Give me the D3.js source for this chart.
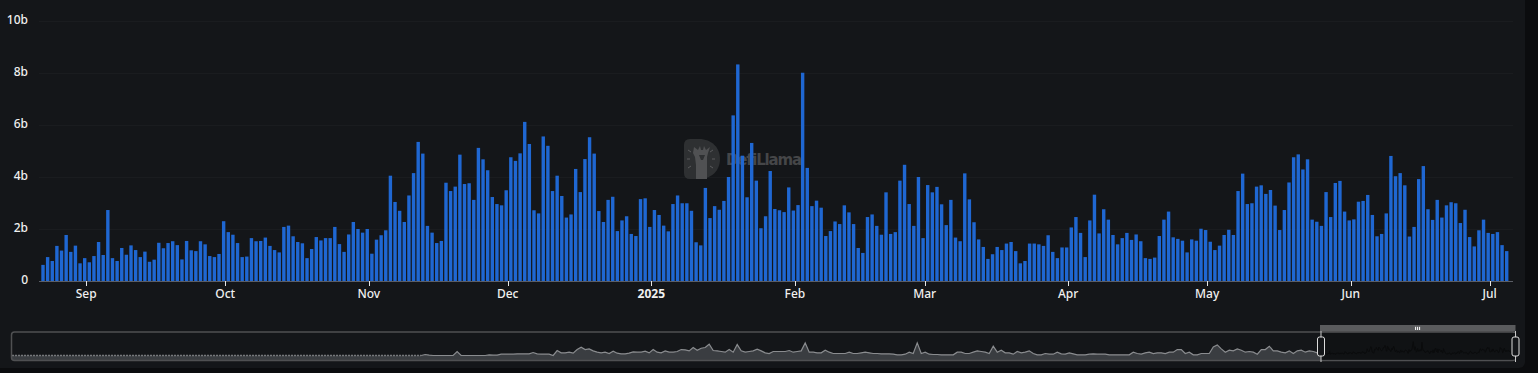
<!DOCTYPE html>
<html>
<head>
<meta charset="utf-8">
<script src="https://cdn.jsdelivr.net/npm/d3@7"></script>
<style>
  html, body { margin: 0; padding: 0; background: #0b0c0e; overflow: hidden; }
  text { font-family: "Noto Sans", sans-serif; }
</style>
</head>
<body>
<div id="chart"></div>
<script>
// daily volume in billions, one bar per day from firstDay
const firstDay = new Date(Date.UTC(2024, 7, 23));
const volumes = [
  0.62, 0.92, 0.77, 1.35, 1.17, 1.77, 1.12, 1.36, 0.68, 0.88, 0.72, 0.96, 1.5, 1.0, 2.73, 0.88,
  0.77, 1.27, 1.01, 1.37, 1.19, 0.92, 1.13, 0.74, 0.82, 1.47, 1.26, 1.46, 1.53, 1.38, 0.83, 1.54,
  1.18, 1.15, 1.53, 1.41, 0.96, 0.92, 1.04, 2.3, 1.88, 1.78, 1.46, 0.92, 0.94, 1.65, 1.53, 1.54,
  1.67, 1.35, 1.19, 1.1, 2.08, 2.13, 1.72, 1.5, 1.45, 0.88, 1.23, 1.69, 1.56, 1.65, 1.65, 2.08,
  1.42, 1.12, 1.79, 2.27, 2.0, 1.86, 2.0, 1.05, 1.59, 1.76, 1.95, 4.05, 3.04, 2.7, 2.27, 3.29,
  4.15, 5.35, 4.9, 2.12, 1.86, 1.46, 1.54, 3.78, 3.46, 3.63, 4.86, 3.73, 3.76, 3.12, 5.12, 4.68,
  4.26, 3.23, 2.96, 2.91, 3.49, 4.76, 4.62, 4.91, 6.12, 5.27, 2.72, 2.6, 5.56, 5.2, 3.46, 4.05,
  3.27, 2.44, 2.56, 4.31, 3.42, 4.69, 5.53, 4.9, 2.69, 2.27, 3.12, 3.24, 1.92, 2.33, 2.49, 1.81,
  1.73, 3.15, 3.18, 2.08, 2.73, 2.54, 2.13, 1.91, 2.96, 3.29, 2.99, 2.99, 2.7, 1.49, 1.37, 3.58,
  2.42, 2.88, 2.74, 3.08, 4.0, 6.37, 8.33, 4.82, 3.22, 5.31, 3.86, 2.03, 2.49, 4.23, 2.77, 2.72,
  2.65, 3.6, 2.71, 2.92, 8.01, 4.35, 2.88, 3.09, 2.82, 1.73, 1.92, 2.29, 2.19, 2.91, 2.64, 2.19,
  1.27, 1.08, 2.46, 2.56, 2.12, 1.78, 3.41, 1.81, 1.88, 3.86, 4.47, 2.96, 2.12, 4.0, 1.65, 3.69,
  3.41, 3.62, 2.95, 2.15, 3.12, 1.67, 1.53, 4.14, 3.14, 2.26, 1.6, 1.31, 0.85, 1.03, 1.31, 1.19,
  1.44, 1.5, 1.15, 0.68, 0.77, 1.44, 1.44, 1.41, 1.35, 1.76, 1.12, 0.88, 1.29, 1.29, 2.06, 2.46,
  1.85, 0.92, 2.33, 3.32, 1.83, 2.76, 2.36, 1.77, 1.41, 1.65, 1.85, 1.58, 1.79, 1.53, 0.88, 0.85,
  0.9, 1.73, 2.36, 2.67, 1.68, 1.62, 1.55, 1.1, 1.6, 1.55, 2.01, 1.96, 1.51, 1.19, 1.36, 1.77,
  1.97, 1.77, 3.46, 4.13, 2.96, 2.99, 3.63, 3.68, 3.35, 3.5, 2.9, 1.96, 2.73, 3.79, 4.76, 4.87,
  4.29, 4.68, 2.36, 2.28, 2.12, 3.42, 2.46, 3.77, 3.85, 2.67, 2.33, 2.37, 3.05, 3.08, 3.31, 2.54,
  1.72, 1.81, 2.6, 4.81, 4.03, 4.15, 3.68, 1.71, 2.08, 3.92, 4.42, 2.76, 2.35, 3.12, 2.44, 2.91,
  3.03, 2.99, 2.23, 2.74, 1.69, 1.33, 1.95, 2.36, 1.85, 1.81, 1.88, 1.38, 1.15
];

const yTicks = [0, 2, 4, 6, 8, 10];
const yTickLabels = ['0', '2b', '4b', '6b', '8b', '10b'];

const xTickDates = ['2024-09-01', '2024-10-01', '2024-11-01', '2024-12-01', '2025-01-01', '2025-02-01',
  '2025-03-01', '2025-04-01', '2025-05-01', '2025-06-01', '2025-07-01'];
const xTickLabels = ['Sep', 'Oct', 'Nov', 'Dec', '2025', 'Feb', 'Mar', 'Apr', 'May', 'Jun', 'Jul'];

// older history shown only in the slider, read every 6.5 days
const historyStart = new Date(Date.UTC(2020, 7, 22));
const historyValues = [
  0, 0.6, 0.2, 0, 0, 0, 0, 0, 0, 2.4, 0, 0, 0, 0, 0, 0, 0, 0.4, 0.2, 0.2, 0.8, 0.8, 0.8, 0.8, 1, 1, 1, 1, 1.8, 1,
  0.8, 0.8, 0.8, 0, 3, 1.6, 1.6, 2, 1.4, 3.6, 5, 3.6, 4, 2.8, 2, 1.6, 2, 1.2, 2.6, 1.4, 1, 1, 1.4, 2.2, 2, 2, 2.6,
  1.6, 3.6, 2, 1.6, 2.8, 2, 2, 2.4,
  3.6, 3.4, 2.8, 4.8, 3.2, 4.4, 4.8, 6.8, 3, 2.8, 2.4, 2, 3.6, 2, 6.6, 2.8, 2, 2.4, 2.8, 3.8, 2.8, 1.6, 1.2, 2.4,
  2.4, 2.4, 2.4, 3, 2, 2.4, 2.8, 7.6, 2, 2, 1.6, 1.6, 3.2, 2, 1.2, 1.2, 1.2, 1.2, 2, 1.2, 1.2, 1.6, 2, 1.6, 1.2,
  1.2, 1, 1, 1, 0.8, 0.4, 0.4, 0.8, 2, 1.2, 7.6, 1.2, 2, 0.8, 0.6, 0.6,
  0.4, 0.4, 0.4, 0.4, 2, 2, 1.2, 1.2, 2, 2.8, 2.4, 2, 1.2, 5.6, 2, 3.2, 1.6, 1.6, 0.8, 2.4, 1.6, 2, 2.8, 1.2, 0.4,
  0.4, 1.2, 0.8, 0.8, 2, 1, 0.8, 1.6, 1, 0.4, 0.4, 0.4, 0.8, 1, 0.8, 0.8, 0.8, 0.4, 0.4, 0.4, 0.4, 0.4, 0.4, 2, 1.2,
  0.8, 1.6, 2, 1.2, 1.6, 1.6, 1.2, 2, 2, 3.6, 3.6, 1.2, 2, 0.4, 0.4, 1.2, 1.2, 1.2, 5.2, 6.4, 4, 2, 3.2, 2.8, 4,
  3.2, 2, 2.4, 2, 0.8, 3.6, 3.6, 5.6, 2.8, 2.8, 2, 1.6, 2.8, 1.2, 2.8, 3.2, 2, 2.8, 2.4, 1.6, 0
];

const width = 1538;
const height = 373;
const barColor = '#1f67d2';
const gridColor = '#1a1c1f';

const days = volumes.map((d, i) => d3.utcDay.offset(firstDay, i));
const lastDay = days[days.length - 1];
const tickDates = xTickDates.map(d => new Date(d + 'T08:00:00Z'));

const svg = d3.select('#chart')
  .append('svg')
  .attr('width', width)
  .attr('height', height)
  .style('display', 'block');

// card behind the chart
svg.append('path')
  .attr('d', 'M0,0H1525V362a6,6 0 0 1 -6,6H0Z')
  .attr('fill', '#141619');

const x = d3.scaleUtc().domain([firstDay, lastDay]).range([43, 1506.7]);
const y = d3.scaleLinear().domain([0, 10]).range([281, 21]);

// grid lines
svg.append('g')
  .selectAll('line')
  .data(yTicks.slice(1))
  .enter()
  .append('line')
  .attr('x1', 39)
  .attr('x2', 1513)
  .attr('y1', d => y(d) + 0.5)
  .attr('y2', d => y(d) + 0.5)
  .attr('stroke', gridColor);

// watermark sits under the bars
const mark = svg.append('g');
mark.append('path')
  .attr('d', 'M690,139H699C712,139 720,148 720,159C720,170 712,179 699,179H690Q684,179 684,173V145Q684,139 690,139Z')
  .attr('fill', '#2e3032');
mark.append('path')
  .attr('d', 'M694,147L698,150L700,146L701,150H703L704,146L706,150L710,147L708,153L707,157V179H696V165L695,157L693,153Z')
  .attr('fill', '#505153');
mark.append('path')
  .attr('d', 'M699,155H705L703,160H701Z')
  .attr('fill', '#2e3032');
mark.selectAll('line')
  .data([[688, 150, 691, 152], [687, 159, 690, 159], [688, 168, 691, 166], [713, 150, 710, 152], [715, 159, 712, 159], [713, 168, 710, 166]])
  .enter()
  .append('line')
  .attr('x1', d => d[0])
  .attr('y1', d => d[1])
  .attr('x2', d => d[2])
  .attr('y2', d => d[3])
  .attr('stroke', '#5a5b5d');
mark.append('text')
  .attr('x', 726)
  .attr('y', 165)
  .attr('textLength', 76)
  .attr('lengthAdjust', 'spacing')
  .style('font-size', '15px')
  .style('font-weight', '700')
  .style('font-family', '"DejaVu Sans", sans-serif')
  .style('fill', '#454648')
  .text('DefiLlama');

// bars
const barWidth = 3.4;
svg.append('g')
  .selectAll('rect')
  .data(volumes)
  .enter()
  .append('rect')
  .attr('x', (d, i) => x(days[i]) - barWidth / 2)
  .attr('y', d => y(d))
  .attr('width', barWidth)
  .attr('height', d => y(0) - y(d))
  .attr('fill', barColor);

// x axis
const xAxis = svg.append('g');
xAxis.append('line')
  .attr('x1', 39)
  .attr('x2', 1513)
  .attr('y1', 281.5)
  .attr('y2', 281.5)
  .attr('stroke', '#5b5e66');

xAxis.selectAll('line.tick')
  .data(tickDates)
  .enter()
  .append('line')
  .attr('class', 'tick')
  .attr('x1', d => Math.round(x(d)) + 0.5)
  .attr('x2', d => Math.round(x(d)) + 0.5)
  .attr('y1', 281)
  .attr('y2', 286)
  .attr('stroke', '#e6e6e6');

xAxis.selectAll('text')
  .data(tickDates)
  .enter()
  .append('text')
  .attr('x', d => x(d))
  .attr('y', 298)
  .attr('text-anchor', 'middle')
  .style('font-size', '12px')
  .style('font-weight', (d, i) => xTickLabels[i] === '2025' ? '700' : '500')
  .style('fill', '#f0f0f0')
  .text((d, i) => xTickLabels[i]);

// y labels
svg.append('g')
  .selectAll('text')
  .data(yTicks)
  .enter()
  .append('text')
  .attr('x', 28)
  .attr('y', d => y(d) + 3)
  .attr('text-anchor', 'end')
  .style('font-size', '12px')
  .style('font-weight', '500')
  .style('fill', '#f0f0f0')
  .text((d, i) => yTickLabels[i]);

// slider below the chart
const sliderRight = 1515.5;
const sliderLeft = 1321;
// the window has to land on the selected days, so the domain start comes from it
const sx = d3.scaleUtc()
  .domain([
    new Date(+firstDay - (sliderLeft - 12) * (+lastDay - +firstDay) / (sliderRight - sliderLeft)),
    lastDay
  ])
  .range([12, sliderRight]);
const sy = d3.scaleLinear().domain([0, 8.33]).range([355.5, 341.7]);

const historyDates = historyValues.map((d, i) => new Date(+historyStart + i * 6.5 * 864e5));
const historyPoints = historyValues.map((d, i) => [historyDates[i], d]);
const windowPoints = volumes.map((d, i) => [days[i], d]);
const flatPoints = [[sx.domain()[0], 0], [historyStart, 0]];

const area = d3.area()
  .x(d => sx(d[0]))
  .y0(360)
  .y1(d => sy(d[1]));
const line = d3.line()
  .x(d => sx(d[0]))
  .y(d => sy(d[1]));

const slider = svg.append('g');

slider.append('path')
  .attr('d', area(flatPoints.concat(historyPoints)))
  .attr('fill', '#3a3d41');
slider.append('path')
  .attr('d', line(historyPoints))
  .attr('fill', 'none')
  .attr('stroke', '#8a8c8f')
  .attr('stroke-width', 1.2);
slider.append('path')
  .attr('d', line(flatPoints))
  .attr('fill', 'none')
  .attr('stroke', '#76787b')
  .attr('stroke-width', 1.4)
  .attr('stroke-dasharray', '2 1');

// frame
slider.append('rect')
  .attr('x', 11.5)
  .attr('y', 332)
  .attr('width', sliderRight - 11.5)
  .attr('height', 28.5)
  .attr('rx', 3)
  .attr('fill', 'none')
  .attr('stroke', '#4f5052')
  .attr('stroke-width', 1.5);

// selected range
slider.append('rect')
  .attr('x', sx(firstDay))
  .attr('y', 333)
  .attr('width', sliderRight - sx(firstDay))
  .attr('height', 26.5)
  .attr('fill', '#101214');
slider.append('path')
  .attr('d', line(windowPoints))
  .attr('fill', 'none')
  .attr('stroke', '#0a0b0c');
slider.append('rect')
  .attr('x', sliderLeft - 1)
  .attr('y', 325)
  .attr('width', sliderRight - sliderLeft + 1)
  .attr('height', 6.5)
  .attr('fill', '#5a5b5d');
slider.selectAll('rect.grip')
  .data([-2, 0, 2])
  .enter()
  .append('rect')
  .attr('class', 'grip')
  .attr('x', d => 1417.6 + d - 0.5)
  .attr('y', 326.8)
  .attr('width', 1)
  .attr('height', 3.2)
  .attr('fill', '#ffffff');

// the two drag handles
slider.selectAll('g.handle')
  .data([sliderLeft, sliderRight])
  .enter()
  .append('g')
  .attr('class', 'handle')
  .each(function(d) {
    const h = d3.select(this);
    h.append('line')
      .attr('x1', d).attr('x2', d)
      .attr('y1', 331).attr('y2', 362)
      .attr('stroke', '#c8c8c8');
    h.append('rect')
      .attr('x', d - 3.5)
      .attr('y', 337)
      .attr('width', 7)
      .attr('height', 19)
      .attr('rx', 2)
      .attr('fill', '#141619')
      .attr('stroke', '#dcdcdc')
      .attr('stroke-width', 1);
  });
</script>
</body>
</html>
